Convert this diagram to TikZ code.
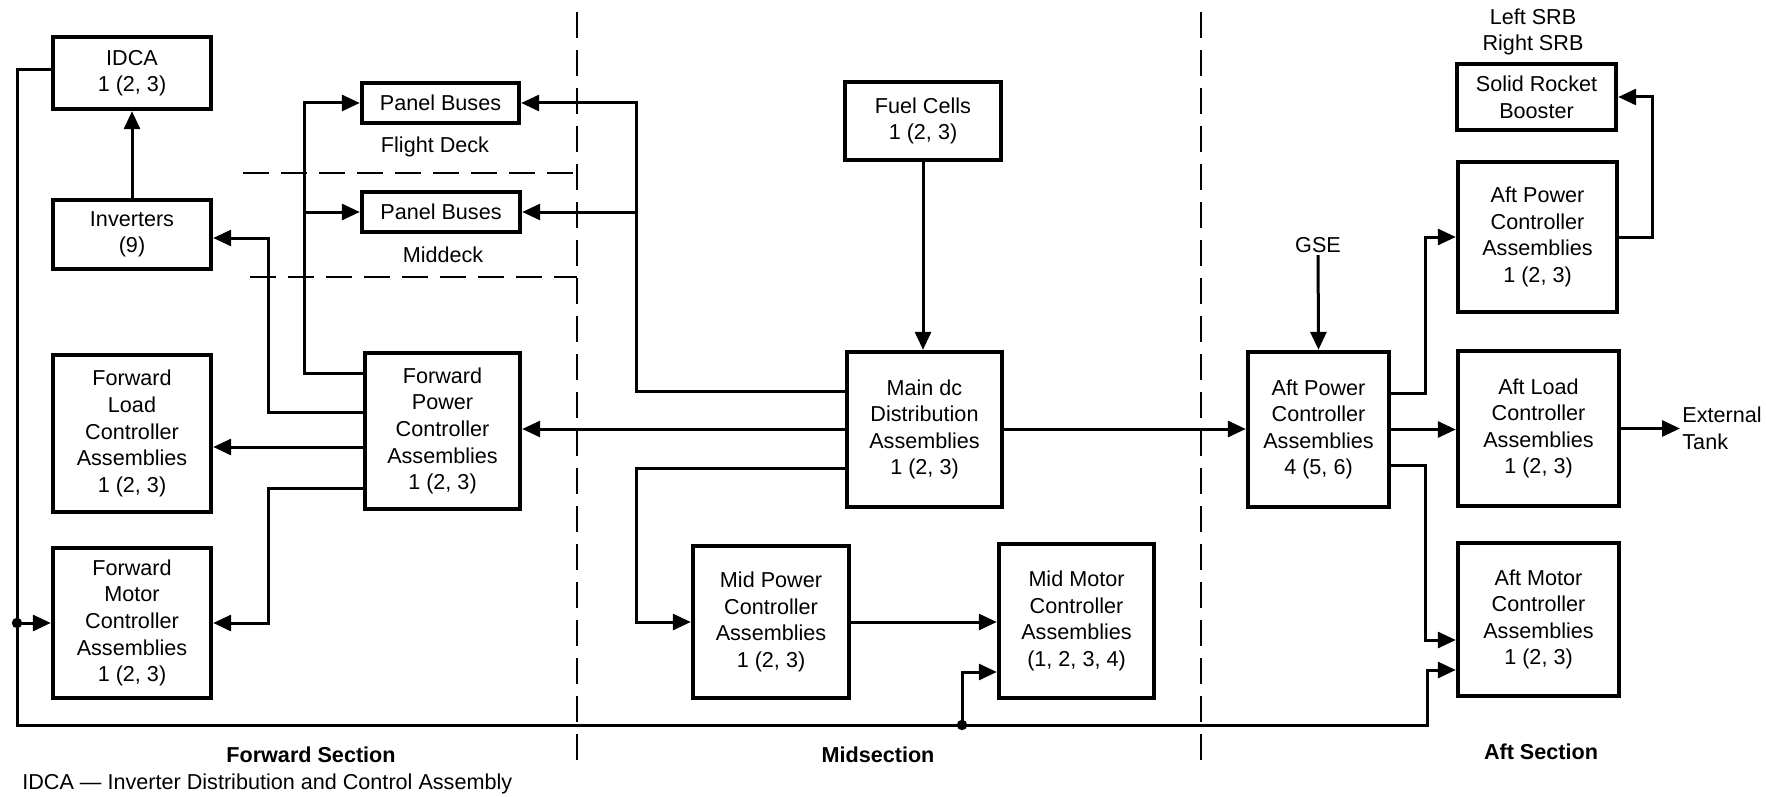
\documentclass[tikz,border=0pt]{standalone}
\usepackage{fontspec}
\setmainfont{Liberation Sans}
\usepackage{tikz}
\usetikzlibrary{arrows.meta,calc}
\tikzset{
  blk/.style 2 args={draw, line width=2.2pt, minimum width=#1, minimum height=#2,
                     align=center, inner sep=2pt, font=\fontsize{10.8}{13.3}\selectfont},
  conn/.style={-{Triangle[length=9pt,width=8pt]}, line width=1.5pt},
  wire/.style={line width=1.5pt},
  divline/.style={line width=1.3pt, dash pattern=on 13pt off 6pt},
  tag/.style={font=\fontsize{10.8}{13.3}\selectfont, align=center, inner sep=1pt},
  seclabel/.style={font=\fontsize{10.8}{13.3}\selectfont\bfseries, inner sep=1pt}
}

\begin{document}
\begin{tikzpicture}[x=0.5pt, y=-0.5pt]
    \useasboundingbox (0,0) rectangle (1766,797);

    % forward section
    \node[blk={79pt}{36pt}]   (idca)    at (132,73)      {IDCA\\1 (2, 3)};
    \node[blk={79pt}{34.5pt}] (inv)     at (132,234.5)   {Inverters\\(9)};
    \node[blk={79pt}{78.5pt}] (fwdload) at (132,433.5)   {Forward\\Load\\Controller\\Assemblies\\1 (2, 3)};
    \node[blk={79pt}{75pt}]   (fwdmot)  at (132,623)     {Forward\\Motor\\Controller\\Assemblies\\1 (2, 3)};
    \node[blk={78.5pt}{20pt}] (pbfd)    at (440.5,103)   {Panel Buses};
    \node[blk={79pt}{20pt}]   (pbmd)    at (441,212)     {Panel Buses};
    \node[blk={77.5pt}{78pt}] (fwdpwr)  at (442.5,431)   {Forward\\Power\\Controller\\Assemblies\\1 (2, 3)};
    \node[tag] (fdlbl) at (435,147) {Flight Deck};
    \node[tag] (mdlbl) at (443,255) {Middeck};

    % midsection
    \node[blk={78pt}{39pt}]     (fuel)   at (923,121)     {Fuel Cells\\1 (2, 3)};
    \node[blk={77.5pt}{77.5pt}] (maindc) at (924.5,429.5) {Main dc\\Distribution\\Assemblies\\1 (2, 3)};
    \node[blk={78pt}{76pt}]     (midpwr) at (771,622)     {Mid Power\\Controller\\Assemblies\\1 (2, 3)};
    \node[blk={77.5pt}{77pt}]   (midmot) at (1076.5,621)  {Mid Motor\\Controller\\Assemblies\\(1, 2, 3, 4)};

    % aft section
    \node[blk={70.5pt}{77.5pt}] (aftpwr)  at (1318.5,429.5) {Aft Power\\Controller\\Assemblies\\4 (5, 6)};
    \node[blk={79.5pt}{33pt}]   (srb)     at (1536.5,97)    {Solid Rocket\\Booster};
    \node[blk={79.5pt}{75pt}]   (aftpwrb) at (1537.5,237)   {Aft Power\\Controller\\Assemblies\\1 (2, 3)};
    \node[blk={80.5pt}{77.5pt}] (aftload) at (1538.5,428.5) {Aft Load\\Controller\\Assemblies\\1 (2, 3)};
    \node[blk={80.5pt}{76.5pt}] (aftmot)  at (1538.5,619.5) {Aft Motor\\Controller\\Assemblies\\1 (2, 3)};
    \node[tag] (srblbl) at (1533,32) {Left SRB\\Right SRB};
    \node[tag] (gse) at (1318,245) {GSE};
    \node[tag, anchor=west, align=left] (ext) at (1680,428) {External\\Tank};

    % section dividers
    \draw[divline] (577,12) -- (577,763);
    \draw[divline] (1201,12) -- (1201,763);
    \draw[divline] (243,173) -- (577,173);
    \draw[divline] (250,277) -- (577,277);

    % taps
    \coordinate (busL)  at (17,725);
    \coordinate (busR)  at (1427,725);
    \coordinate (fmdot) at (17,623);
    \coordinate (mmdot) at (962,725);
    \coordinate (fwtap)  at (304,0);
    \coordinate (invtap) at (268,0);
    \coordinate (pbtap)  at (636,0);
    \coordinate (afttap) at (1425,0);
    \coordinate (srbtap) at (1652,0);

    % connectors
    \draw[conn] (inv.north) -- (idca.south);
    \draw[conn] (idca.west |- 0,70) -| (busL) -- (busR) |- (aftmot.west |- 0,670);
    \draw[conn] (fmdot) -- (fwdmot.west |- fmdot);
    \draw[conn] (mmdot) |- (midmot.west |- 0,672);
    \fill (fmdot) circle (2.6pt);
    \fill (mmdot) circle (2.6pt);

    \draw[conn] (fwdpwr.west |- 0,373) -| (fwtap |- pbfd.west) -- (pbfd.west);
    \draw[conn] (fwtap |- pbmd.west) -- (pbmd.west);
    \draw[conn] (fwdpwr.west |- 0,412) -| (invtap |- 0,238) -- (inv.east |- 0,238);
    \draw[conn] (fwdpwr.west |- 0,447) -- (fwdload.east |- 0,447);
    \draw[conn] (fwdpwr.west |- 0,488) -| (invtap |- fwdmot.east) -- (fwdmot.east);

    \draw[conn] (fuel.south) -- (fuel.south |- maindc.north);
    \draw[conn] (maindc.west |- 0,391) -| (pbtap |- pbfd.east) -- (pbfd.east);
    \draw[conn] (pbtap |- pbmd.east) -- (pbmd.east);
    \draw[conn] (maindc.west |- 0,429) -- (fwdpwr.east |- 0,429);
    \draw[conn] (maindc.west |- 0,468) -| (pbtap |- midpwr.west) -- (midpwr.west);
    \draw[conn] (maindc.east |- 0,429) -- (aftpwr.west |- 0,429);
    \draw[conn] (midpwr.east) -- (midmot.west |- midpwr.east);

    \draw[conn] (gse) -- (aftpwr.north);
    \draw[conn] (aftpwr.east |- 0,393) -| (afttap |- aftpwrb.west) -- (aftpwrb.west);
    \draw[conn] (aftpwrb.east) -| (srbtap |- srb.east) -- (srb.east);
    \draw[conn] (aftpwr.east) -- (aftload.west |- aftpwr.east);
    \draw[conn] (aftpwr.east |- 0,465) -| (afttap |- 0,640) -- (aftmot.west |- 0,640);
    \draw[conn] (aftload.east) -- (ext.west |- aftload.east);

    % section names
    \node[seclabel] (fwdsec) at (311,755) {Forward Section};
    \node[seclabel] (midsec) at (878,755) {Midsection};
    \node[seclabel] (aftsec) at (1541,752) {Aft Section};
    \node[tag, anchor=west] (note) at (20,784) {IDCA --- Inverter Distribution and Control Assembly};
  \end{tikzpicture}
\end{document}
